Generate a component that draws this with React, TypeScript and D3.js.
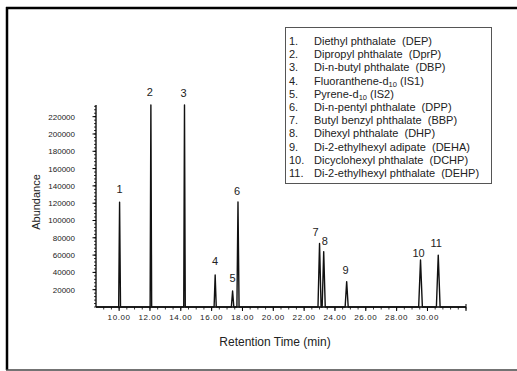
import React from 'react';
import * as d3 from 'd3';

// ---- data ----
const peakNumbers = ['1', '2', '3', '4', '5', '6', '7', '8', '9', '10', '11'];
const retentionTimes = [10.03, 12.06, 14.24, 16.23, 17.36, 17.71, 23.0, 23.27, 24.76, 29.55, 30.7];
const abundances = [121000, 233500, 233500, 37000, 18500, 121500, 73500, 64000, 29300, 54300, 60000];
const peakHalfWidths = [0.06, 0.05, 0.05, 0.07, 0.08, 0.07, 0.1, 0.1, 0.1, 0.12, 0.12];
const legendNums = ['1.', '2.', '3.', '4.', '5.', '6.', '7.', '8.', '9.', '10.', '11.'];
const legendNames: [string, string?, string?][] = [
  ['Diethyl phthalate  (DEP)'],
  ['Dipropyl phthalate  (DprP)'],
  ['Di-n-butyl phthalate  (DBP)'],
  ['Fluoranthene-d', '10', ' (IS1)'],
  ['Pyrene-d', '10', ' (IS2)'],
  ['Di-n-pentyl phthalate  (DPP)'],
  ['Butyl benzyl phthalate  (BBP)'],
  ['Dihexyl phthalate  (DHP)'],
  ['Di-2-ethylhexyl adipate  (DEHA)'],
  ['Dicyclohexyl phthalate  (DCHP)'],
  ['Di-2-ethylhexyl phthalate  (DEHP)'],
];
const xTickValues = d3.range(10, 30.01, 2);
const yTickValues = d3.range(20000, 220001, 20000);
const xDomain: [number, number] = [8.5, 32.5];
const yDomain: [number, number] = [0, 233500];

// ---- layout (not data) ----
const W = 517;
const H = 371;
const labelOffsets: [number, number][] = [
  [0, -9], [-1, -9], [-1, -8], [0, -10], [0, -9], [-1, -7],
  [-4, -7], [1, -7], [-1, -8], [-2, -3], [-2, -8],
];

const x = d3.scaleLinear().domain(xDomain).range([96, 466]);
const y = d3.scaleLinear().domain(yDomain).range([307, 105]);

const fmt = d3.format('.2f');
const narrow = "'Liberation Sans Narrow', 'Arial Narrow', 'Liberation Sans', Arial, sans-serif";
const sans = "'Liberation Sans', Arial, Helvetica, sans-serif";

export default function App() {
  const pts: [number, number][] = [[xDomain[0], 0]];
  retentionTimes.forEach((rt, i) => {
    pts.push([rt - peakHalfWidths[i], 0]);
    pts.push([rt, abundances[i]]);
    pts.push([rt + peakHalfWidths[i], 0]);
  });
  pts.push([xDomain[1], 0]);
  const line = d3.line<[number, number]>().x((d) => x(d[0])).y((d) => y(d[1]));

  const yMinor = d3.range(0, yDomain[1], 4000);
  const xMinor = d3.range(9, 32.51, 0.5);

  return (
    <svg
      width={W}
      height={H}
      style={{ position: 'absolute', left: 0, top: 0, background: '#fff' }}
    >
      {/* frame */}
      <line x1={6} y1={8} x2={W} y2={8} stroke="#000" strokeWidth={2.5} />
      <line x1={7} y1={7} x2={7} y2={370} stroke="#000" strokeWidth={2.5} />
      <line x1={6} y1={370} x2={W} y2={370} stroke="#444" strokeWidth={1.5} />

      {/* y axis */}
      <line x1={x(xDomain[0])} y1={y(yDomain[1])} x2={x(xDomain[0])} y2={y(0)} stroke="#000" strokeWidth={1.3} />
      {yMinor.map((v) => (
        <line key={'ym' + v} x1={x(xDomain[0]) - 2} x2={x(xDomain[0])} y1={y(v)} y2={y(v)} stroke="#000" strokeWidth={0.8} />
      ))}
      {yTickValues.map((v) => (
        <g key={'yt' + v}>
          <line x1={x(xDomain[0]) - 3.5} x2={x(xDomain[0])} y1={y(v)} y2={y(v)} stroke="#000" strokeWidth={1} />
          <text x={75} y={y(v) + 3} textAnchor="end" fontSize={8} fontFamily={narrow} fill="#222">
            {v}
          </text>
        </g>
      ))}

      {/* x axis */}
      <line x1={x(xDomain[0])} y1={y(0)} x2={x(xDomain[1])} y2={y(0)} stroke="#000" strokeWidth={1.3} />
      {xMinor.map((v) => (
        <line key={'xm' + v} x1={x(v)} x2={x(v)} y1={y(0)} y2={y(0) + 2.5} stroke="#000" strokeWidth={0.8} />
      ))}
      {xTickValues.map((v) => (
        <g key={'xt' + v}>
          <line x1={x(v)} x2={x(v)} y1={y(0)} y2={y(0) + 4} stroke="#000" strokeWidth={1} />
          <text x={x(v)} y={320} textAnchor="middle" fontSize={8} fontFamily={narrow} letterSpacing={0.6} fill="#222">
            {fmt(v)}
          </text>
        </g>
      ))}
      <line x1={x(xDomain[1])} x2={x(xDomain[1])} y1={y(0) - 3} y2={y(0) + 4} stroke="#000" strokeWidth={1} />

      {/* chromatogram */}
      <path d={line(pts) || ''} fill="none" stroke="#111" strokeWidth={1.4} strokeLinejoin="round" />

      {/* peak labels */}
      {peakNumbers.map((p, i) => (
        <text
          key={'pl' + p}
          x={x(retentionTimes[i]) + labelOffsets[i][0]}
          y={y(abundances[i]) + labelOffsets[i][1]}
          textAnchor="middle"
          fontSize={11}
          fontFamily={sans}
          fill="#222"
        >
          {p}
        </text>
      ))}

      {/* axis titles */}
      <text
        transform={`translate(40, 202) rotate(-90)`}
        textAnchor="middle"
        fontSize={11}
        fontFamily={sans}
        fill="#222"
      >
        Abundance
      </text>
      <text x={275} y={346} textAnchor="middle" fontSize={12} fontFamily={sans} fill="#222">
        Retention Time (min)
      </text>

      {/* legend */}
      <rect x={285.5} y={27.5} width={206} height={156} fill="#fff" stroke="#555" strokeWidth={1} />
      {legendNums.map((n, i) => {
        const ly = 45 + i * 13.2;
        const [a, sub, b] = legendNames[i];
        return (
          <g key={'lg' + i}>
            <text x={289} y={ly} fontSize={11} fontFamily={sans} fill="#222">
              {n}
            </text>
            <text x={314} y={ly} fontSize={11} fontFamily={sans} fill="#222" style={{ whiteSpace: 'pre' }}>
              {a}
              {sub ? (
                <tspan fontSize={7.5} dy={2.5}>
                  {sub}
                </tspan>
              ) : null}
              {b ? <tspan dy={sub ? -2.5 : 0}>{b}</tspan> : null}
            </text>
          </g>
        );
      })}
    </svg>
  );
}
